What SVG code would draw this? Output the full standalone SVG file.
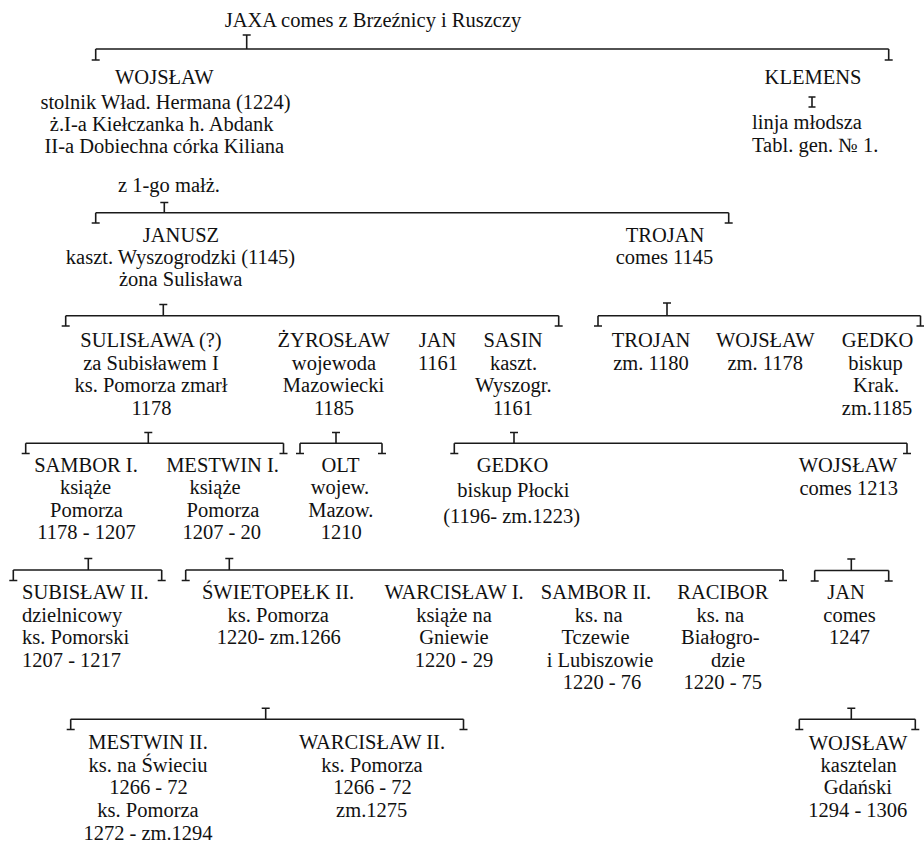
<svg xmlns="http://www.w3.org/2000/svg" width="924" height="843" viewBox="0 0 924 843">
  <style>
    text { font-family: "Liberation Serif", "Times New Roman", serif; font-size: 20.5px; fill: #111; text-anchor: middle; }
    text.l { text-anchor: start; }
    .br { fill: none; stroke: #1a1a1a; stroke-width: 1.6; }
  </style>
  <rect width="924" height="843" fill="#fff"/>

  <!-- family brackets: bar, end ticks with foot serifs, and a stub with a head serif -->
  <g id="connectors" class="br">
    <path d="M95.7 49H888.7 M95.7 49V60 M91.7 60H99.7 M888.7 49V60 M884.7 60H892.7 M246.7 49V35 M242.7 35H250.7"/>
    <path d="M812 97V107 M808.5 97H815.5 M808.5 107H815.5"/>
    <path d="M95.7 212.7H728.7 M95.7 212.7V223 M91.7 223H99.7 M728.7 212.7V223 M724.7 223H732.7 M164.3 212.7V202.5 M160.3 202.5H168.3"/>
    <path d="M65.7 315.7H558.7 M65.7 315.7V326 M61.7 326H69.7 M558.7 315.7V326 M554.7 326H562.7 M163.3 315.7V304.5 M159.3 304.5H167.3"/>
    <path d="M598 315.7H920.5 M598 315.7V326 M594 326H602 M920.5 315.7V326 M916.5 326H924 M667 315.7V303 M663 303H671"/>
    <path d="M25.7 443.3H283.5 M25.7 443.3V453.5 M21.7 453.5H29.7 M283.5 443.3V453.5 M279.5 453.5H287.5 M148.3 443.3V432.5 M144.3 432.5H152.3"/>
    <path d="M300 443.3H382 M300 443.3V453.5 M296 453.5H304 M382 443.3V453.5 M378 453.5H386 M336 443.3V432.5 M332 432.5H340"/>
    <path d="M454.3 443.3H907 M454.3 443.3V453.5 M450.3 453.5H458.3 M907 443.3V453.5 M903 453.5H911 M514 443.3V432.5 M510 432.5H518"/>
    <path d="M13.3 570H161.7 M13.3 570V580.5 M9.3 580.5H17.3 M161.7 570V580.5 M157.7 580.5H165.7 M88.3 570V558.5 M84.3 558.5H92.3"/>
    <path d="M185.7 570H783 M185.7 570V580.5 M181.7 580.5H189.7 M783 570V580.5 M779 580.5H787 M229.3 570V558.5 M225.3 558.5H233.3"/>
    <path d="M814.7 570.5H888.7 M814.7 570.5V581 M810.7 581H818.7 M888.7 570.5V581 M884.7 581H892.7 M851.3 570.5V559 M847.3 559H855.3"/>
    <path d="M70.7 719.3H463.5 M70.7 719.3V729.5 M66.7 729.5H74.7 M463.5 719.3V729.5 M459.5 729.5H467.5 M265.7 719.3V708.3 M261.7 708.3H269.7"/>
    <path d="M799.3 719.3H915.3 M799.3 719.3V729.5 M795.3 729.5H803.3 M915.3 719.3V729.5 M911.3 729.5H919.3 M851.3 719.3V708.3 M847.3 708.3H855.3"/>
  </g>

  <g id="jaxa"><text x="373" y="27">JAXA comes z Brzeźnicy i Ruszczy</text></g>

  <g id="wojslaw">
    <text x="164.3" y="84">WOJSŁAW</text>
    <text x="165.5" y="109">stolnik Wład. Hermana (1224)</text>
    <text x="161.7" y="131">ż.I-a Kiełczanka h. Abdank</text>
    <text x="164.3" y="153">II-a Dobiechna córka Kiliana</text>
    <text x="169" y="192">z 1-go małż.</text>
  </g>

  <g id="klemens">
    <text x="813" y="84">KLEMENS</text>
    <text class="l" x="752" y="129">linja młodsza</text>
    <text class="l" x="752" y="151.5">Tabl. gen. № 1.</text>
  </g>

  <g id="janusz">
    <text x="181" y="241.7">JANUSZ</text>
    <text x="180.5" y="264">kaszt. Wyszogrodzki (1145)</text>
    <text x="180.7" y="286">żona Sulisława</text>
  </g>

  <g id="trojan">
    <text x="665" y="241.7">TROJAN</text>
    <text x="664.5" y="264">comes 1145</text>
  </g>

  <g id="sulislawa">
    <text x="151" y="346.7">SULISŁAWA (?)</text>
    <text x="151" y="369.5">za Subisławem I</text>
    <text x="151" y="392.3">ks. Pomorza zmarł</text>
    <text x="151.5" y="415">1178</text>
  </g>

  <g id="zyroslaw">
    <text x="333.7" y="346.7">ŻYROSŁAW</text>
    <text x="334" y="369.5">wojewoda</text>
    <text x="333.5" y="392.3">Mazowiecki</text>
    <text x="334" y="415">1185</text>
  </g>

  <g id="jan-1161">
    <text x="437.5" y="346.7">JAN</text>
    <text x="438" y="369.5">1161</text>
  </g>

  <g id="sasin">
    <text x="513" y="346.7">SASIN</text>
    <text x="513.5" y="369.5">kaszt.</text>
    <text x="513.3" y="392.3">Wyszogr.</text>
    <text x="513" y="415">1161</text>
  </g>

  <g id="trojan-jr">
    <text x="651" y="346.7">TROJAN</text>
    <text x="651" y="369.5">zm. 1180</text>
  </g>

  <g id="wojslaw-1178">
    <text x="765.3" y="346.7">WOJSŁAW</text>
    <text x="765.3" y="369.5">zm. 1178</text>
  </g>

  <g id="gedko-krak">
    <text x="877.5" y="346.7">GEDKO</text>
    <text x="875.5" y="369.5">biskup</text>
    <text x="876" y="392.3">Krak.</text>
    <text x="877" y="415">zm.1185</text>
  </g>

  <g id="sambor-1">
    <text x="86" y="471.7">SAMBOR I.</text>
    <text x="85.5" y="494.2">książe</text>
    <text x="86.5" y="516.7">Pomorza</text>
    <text x="86.5" y="539.3">1178 - 1207</text>
  </g>

  <g id="mestwin-1">
    <text x="222.5" y="471.7">MESTWIN I.</text>
    <text x="215" y="494.2">książe</text>
    <text x="223" y="516.7">Pomorza</text>
    <text x="221.7" y="539.3">1207 - 20</text>
  </g>

  <g id="olt">
    <text x="340.5" y="471.7">OLT</text>
    <text x="340" y="494.2">wojew.</text>
    <text x="340.8" y="516.7">Mazow.</text>
    <text x="341.2" y="539.3">1210</text>
  </g>

  <g id="gedko-plock">
    <text x="512.5" y="471.7">GEDKO</text>
    <text x="513.3" y="497">biskup Płocki</text>
    <text x="511.7" y="523">(1196- zm.1223)</text>
  </g>

  <g id="wojslaw-1213">
    <text x="848" y="471.7">WOJSŁAW</text>
    <text x="848.7" y="495">comes 1213</text>
  </g>

  <g id="subislaw-2">
    <text class="l" x="22" y="599">SUBISŁAW II.</text>
    <text class="l" x="22" y="621.7">dzielnicowy</text>
    <text class="l" x="22" y="644">ks. Pomorski</text>
    <text class="l" x="22" y="666.5">1207 - 1217</text>
  </g>

  <g id="swietopelk-2">
    <text x="278" y="599">ŚWIETOPEŁK II.</text>
    <text x="278.3" y="621.7">ks. Pomorza</text>
    <text x="278.8" y="644">1220- zm.1266</text>
  </g>

  <g id="warcislaw-1">
    <text x="454" y="599">WARCISŁAW I.</text>
    <text x="454" y="621.7">książe na</text>
    <text x="454" y="644">Gniewie</text>
    <text x="454" y="666.5">1220 - 29</text>
  </g>

  <g id="sambor-2">
    <text x="596" y="599">SAMBOR II.</text>
    <text x="598.7" y="621.7">ks. na</text>
    <text x="595.5" y="644">Tczewie</text>
    <text x="600" y="666.5">i Lubiszowie</text>
    <text x="602" y="689">1220 - 76</text>
  </g>

  <g id="racibor">
    <text x="722.8" y="599">RACIBOR</text>
    <text x="720.3" y="621.7">ks. na</text>
    <text x="720.3" y="644">Białogro-</text>
    <text x="728" y="666.5">dzie</text>
    <text x="722.8" y="689">1220 - 75</text>
  </g>

  <g id="jan-1247">
    <text x="846" y="599">JAN</text>
    <text x="849.5" y="621.7">comes</text>
    <text x="849.5" y="644">1247</text>
  </g>

  <g id="mestwin-2">
    <text x="148" y="749.3">MESTWIN II.</text>
    <text x="148" y="771.7">ks. na Świeciu</text>
    <text x="148.5" y="794">1266 - 72</text>
    <text x="148" y="817">ks. Pomorza</text>
    <text x="148" y="840">1272 - zm.1294</text>
  </g>

  <g id="warcislaw-2">
    <text x="372" y="749.3">WARCISŁAW II.</text>
    <text x="372" y="771.7">ks. Pomorza</text>
    <text x="372.5" y="794">1266 - 72</text>
    <text x="371.7" y="817">zm.1275</text>
  </g>

  <g id="wojslaw-gdansk">
    <text x="858" y="750">WOJSŁAW</text>
    <text x="858.7" y="772">kasztelan</text>
    <text x="857.8" y="794">Gdański</text>
    <text x="857.8" y="817">1294 - 1306</text>
  </g>
</svg>
